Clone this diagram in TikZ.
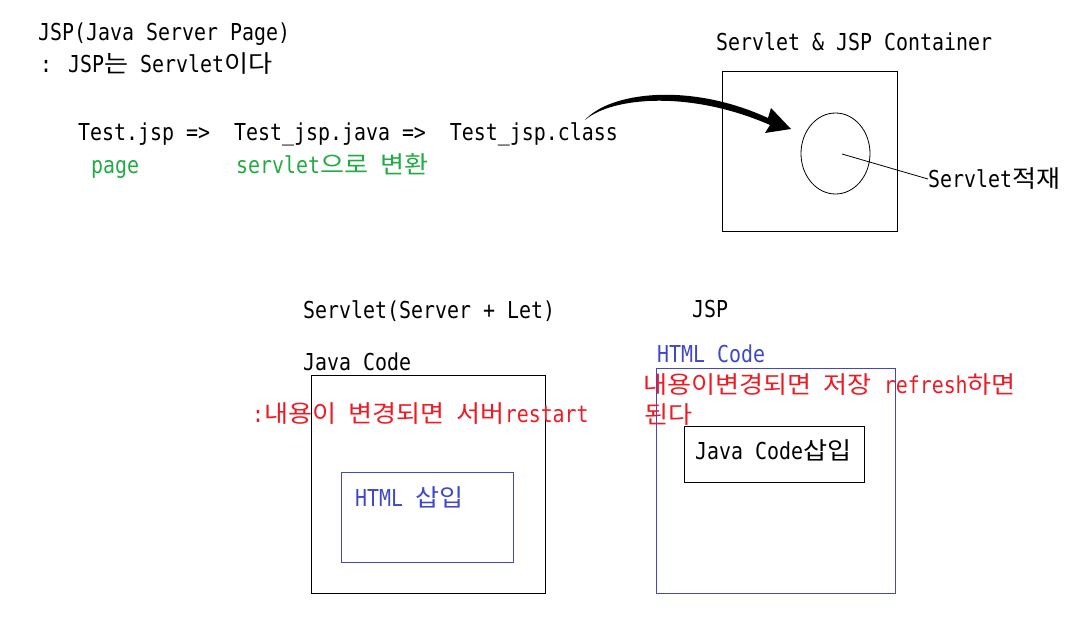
\documentclass[tikz,border=0pt]{standalone}
\usepackage{fontspec}
\setmainfont{DejaVu Sans Mono}[FakeStretch=0.855]
\newfontfamily\krfont{Noto Sans CJK KR}[Scale=1.03, FakeStretch=1.09]
\usetikzlibrary{positioning}
\definecolor{jgreen}{RGB}{34,170,68}
\definecolor{jblue}{RGB}{64,72,200}
\definecolor{jred}{RGB}{237,28,36}
\tikzset{
  lbl/.style={anchor=base west, inner sep=0pt, font=\fontsize{23.3}{28}\selectfont},
  frame/.style={draw, line width=1pt, inner sep=0pt},
}

\begin{document}
\begin{tikzpicture}[x=1pt,y=-1pt]
\useasboundingbox (0,0) rectangle (1072,620);
%title lines
\node[lbl] (title) at (38,41) {JSP(Java Server Page)};
\node[lbl] (sub) at (40,73) {: JSP{\krfont 는} Servlet{\krfont 이다}};
\node[lbl] (chain) at (78,141) {Test.jsp =>~ Test\_jsp.java =>~ Test\_jsp.class};
\node[lbl,color=jgreen] (pg) at (91,174) {page};
\node[lbl,color=jgreen] (conv) at (236,174) {servlet{\krfont 으로} {\krfont 변환}};
%brush arrow
\fill (585,120) .. controls (610,92) and (690,82) .. (768,118) -- (771,108) -- (791,129)
  -- (765,133) -- (770,125) .. controls (690,90) and (612,97) .. (585,120) -- cycle;
%container
\node[lbl] (cont) at (716,51) {Servlet \& JSP Container};
\node[frame, minimum width=175pt, minimum height=160pt] (cbox) at (809.5,152) {};
\draw[line width=0.8pt] (835.5,153.5) ellipse [x radius=34.5, y radius=40.5];
\coordinate (sctr) at (842,154);
\node[lbl] (load) at (928,188) {Servlet{\krfont 적재}};
\draw[line width=0.8pt] (sctr) -- (load.west);
%servlet side
\node[lbl] (svt) at (303,319) {Servlet(Server + Let)};
\node[lbl] (jc) at (303,371) {Java Code};
\node[frame, minimum width=234pt, minimum height=217pt] (svbox) at (428,484.5) {};
\node[lbl,color=jred] (rst) at (252,423) {:{\krfont 내용이} {\krfont 변경되면} {\krfont 서버}restart};
\node[frame, draw=jblue, minimum width=172pt, minimum height=89pt] (hbox) at (427,517.5) {};
\node[lbl,color=jblue] (hin) at (355,507) {HTML {\krfont 삽입}};
%jsp side
\node[lbl] (jsp) at (692,318) {JSP};
\node[lbl,color=jblue] (hc) at (657,363) {HTML Code};
\node[frame, draw=jblue, minimum width=239pt, minimum height=224pt] (jbox) at (775.5,481) {};
\node[lbl,color=jred] (rf1) at (643,394) {{\krfont 내용이변경되면} {\krfont 저장} refresh{\krfont 하면}};
\node[lbl,color=jred] (rf2) at (644,424) {{\krfont 된다}};
\node[frame, minimum width=180pt, minimum height=56pt] (jcbox) at (774,455) {};
\node[lbl] (jcin) at (695,460) {Java Code{\krfont 삽입}};
\end{tikzpicture}
\end{document}
